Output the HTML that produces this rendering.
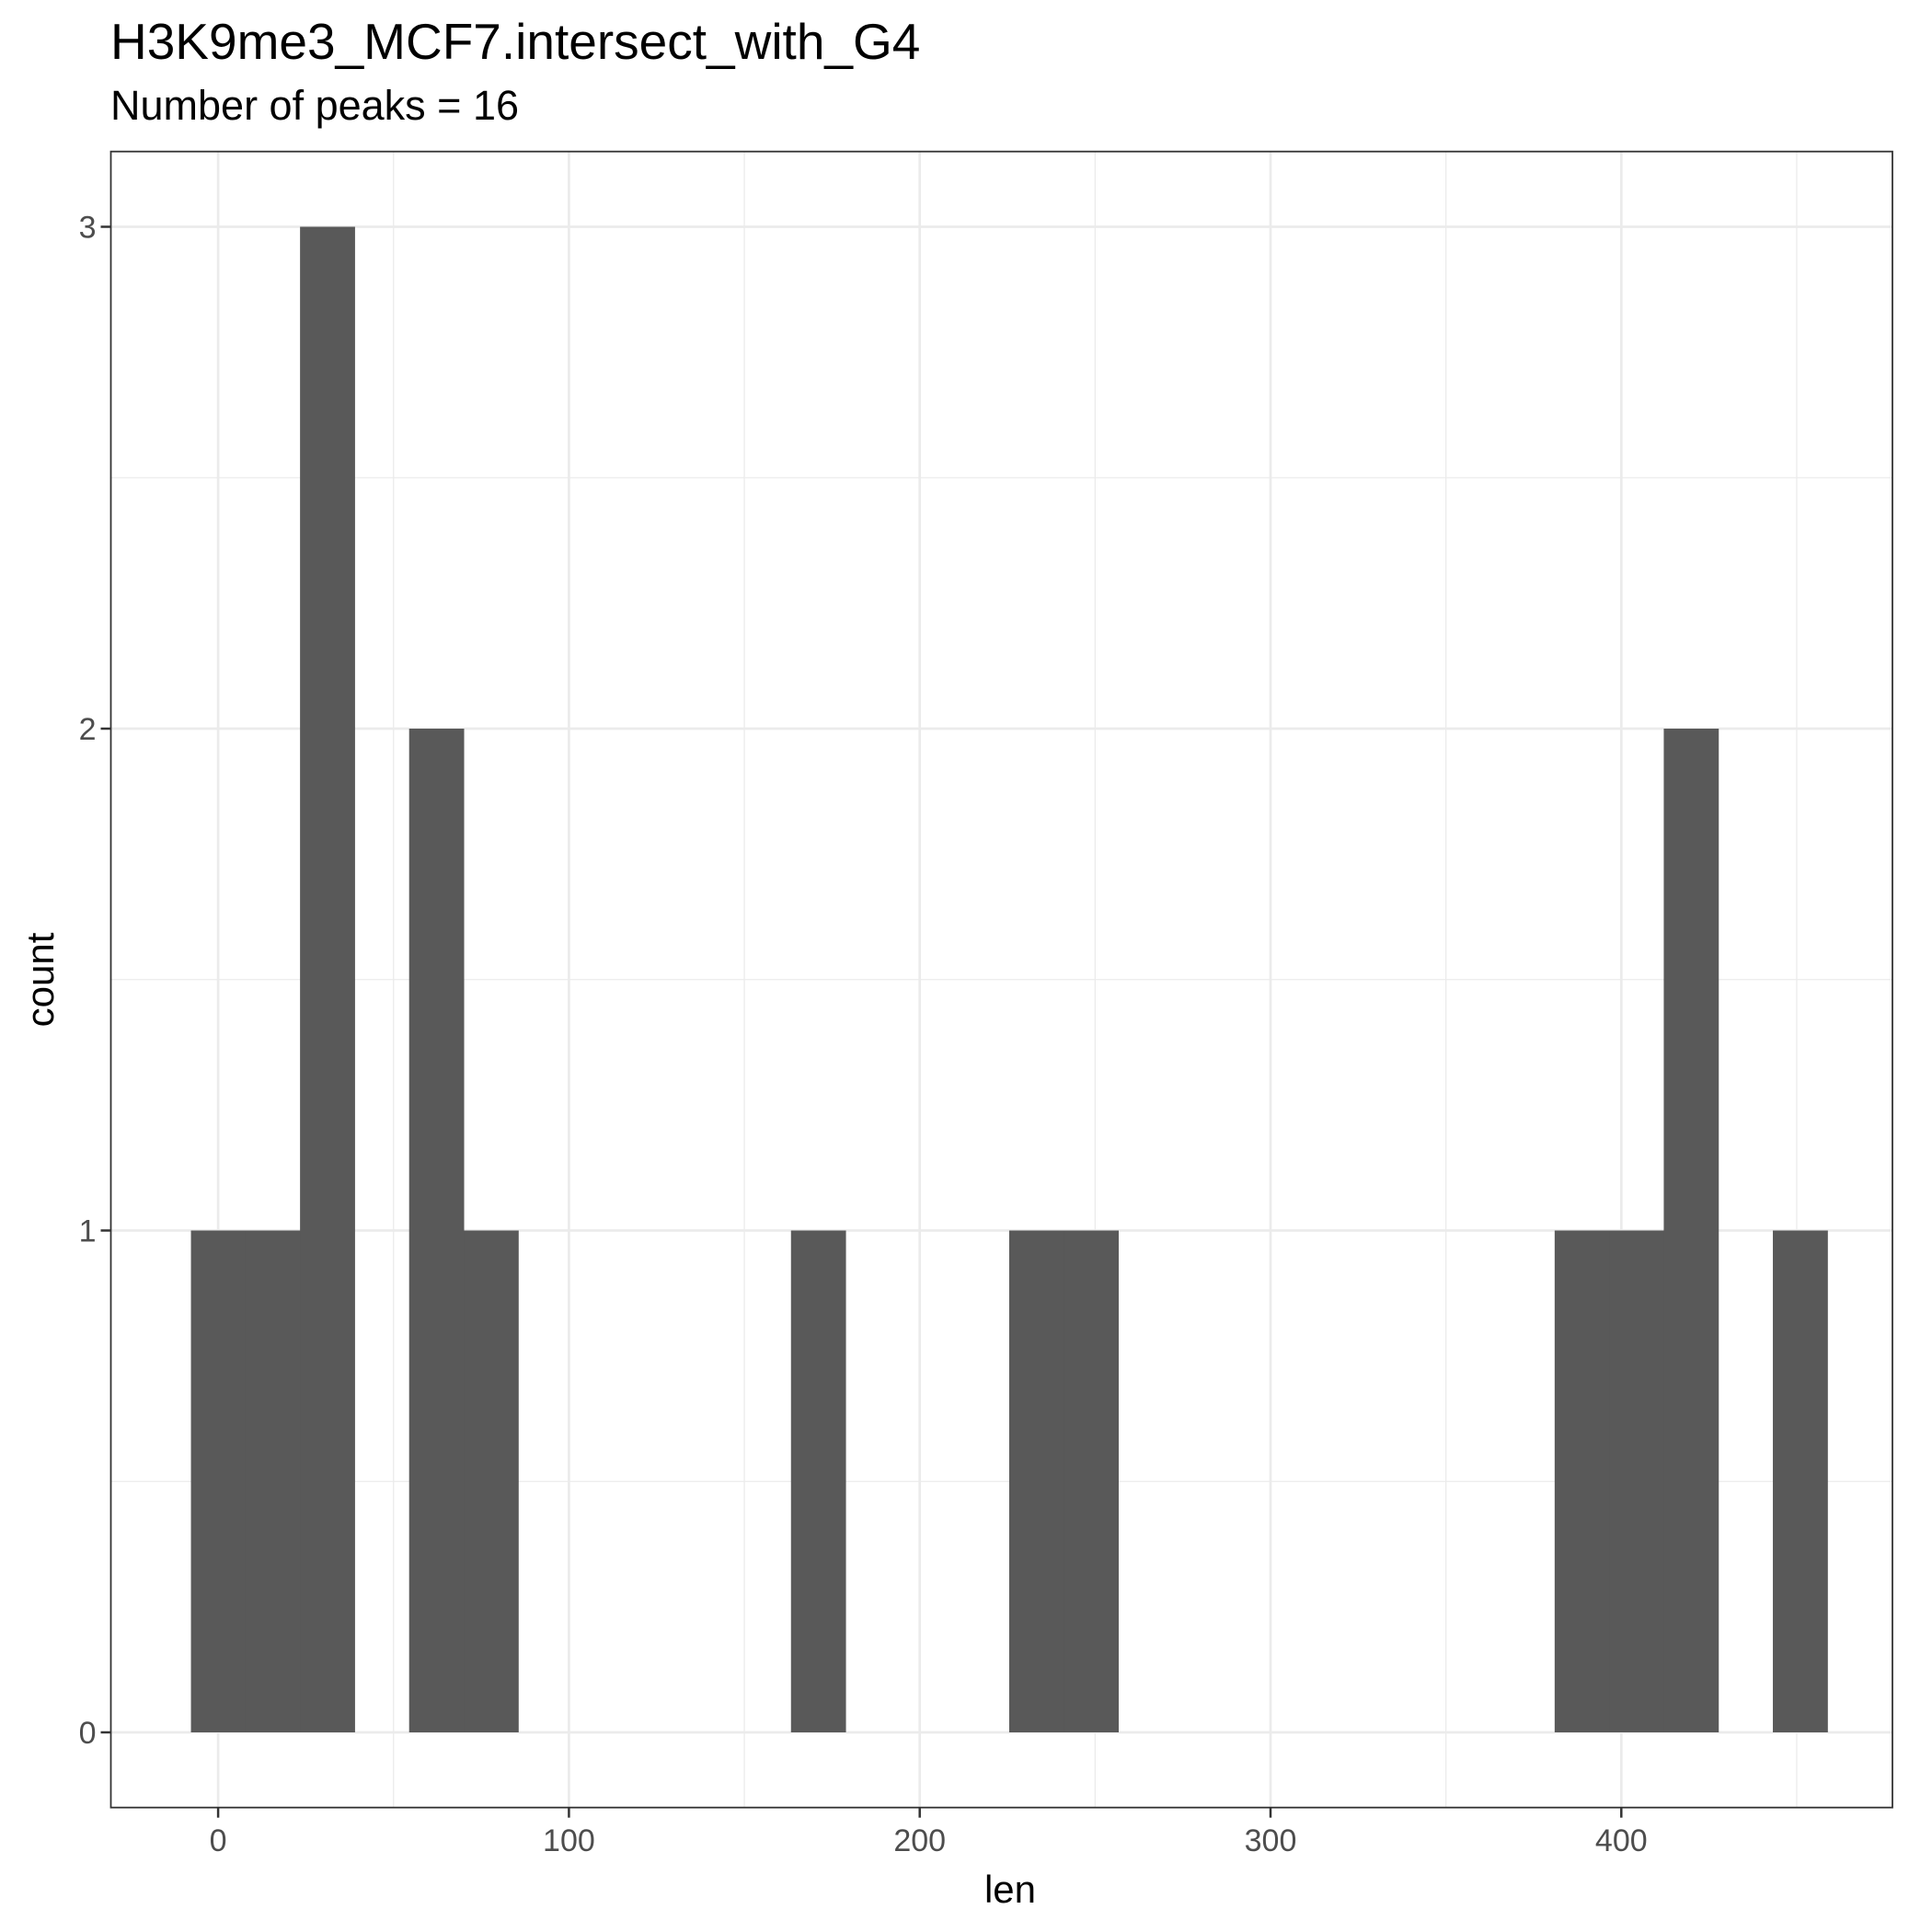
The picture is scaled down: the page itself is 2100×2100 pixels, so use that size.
<!DOCTYPE html>
<html><head><meta charset="utf-8"><style>
html,body{margin:0;padding:0;background:#fff;}
svg{display:block;font-family:"Liberation Sans",sans-serif;}
</style></head><body>
<svg id="chart" width="2100" height="2100" viewBox="0 0 2100 2100">
<text x="120" y="64" font-size="55" fill="#000">H3K9me3_MCF7.intersect_with_G4</text>
<text x="120" y="130" font-size="45" fill="#000">Number of peaks = 16</text>
<g id="grid"></g>
<g id="bars"></g>
<rect x="120.5" y="164.7" width="1936.5" height="1800" fill="none" stroke="#333" stroke-width="1.8"/>
<g id="axes"></g>
<text x="1098" y="2068" font-size="42" text-anchor="middle" fill="#000">len</text>
<text transform="translate(58,1065) rotate(-90)" font-size="42" text-anchor="middle" fill="#000">count</text>
</svg>
<script>
const binStart = -7.75;
const binWidth = 15.55;
const counts = [1,1,3,0,2,1,0,0,0,0,0,1,0,0,0,1,1,0,0,0,0,0,0,0,0,1,1,2,0,1];
const xTicks = [0,100,200,300,400];
const xMinor = [50,150,250,350,450];
const yTicks = [0,1,2,3];
const yMinor = [0.5,1.5,2.5];

const NS = "http://www.w3.org/2000/svg";
const PL = 120.5, PR = 2057, PT = 164.7, PB = 1964.7;
function xs(v){ return 237.1 + v * 3.813; }
function ys(v){ return 1883 - v * 545.5; }
function mk(tag, attrs, parent){ const e = document.createElementNS(NS, tag); for (const k in attrs) e.setAttribute(k, attrs[k]); parent.appendChild(e); return e; }

const grid = document.getElementById('grid');
const bars = document.getElementById('bars');
const axes = document.getElementById('axes');
mk('rect',{x:PL,y:PT,width:PR-PL,height:PB-PT,fill:'#fff'},grid);
xMinor.forEach(v=>{ const l=mk('line',{x1:xs(v),x2:xs(v),y1:PT,y2:PB,stroke:'#ebebeb','stroke-width':1.3},grid);

 });
yMinor.forEach(v=>{ const l=mk('line',{x1:PL,x2:PR,y1:ys(v),y2:ys(v),stroke:'#ebebeb','stroke-width':1.3},grid);

 });
xTicks.forEach(v=>{ const l=mk('line',{x1:xs(v),x2:xs(v),y1:PT,y2:PB,stroke:'#ebebeb','stroke-width':2.7},grid);

 });
yTicks.forEach(v=>{ const l=mk('line',{x1:PL,x2:PR,y1:ys(v),y2:ys(v),stroke:'#ebebeb','stroke-width':2.7},grid);

 });

counts.forEach((c,i)=>{ if(!c) return;
  const a = binStart + i*binWidth, b = a + binWidth;
  const r = mk('rect',{x:xs(a),y:ys(c),width:xs(b)-xs(a)+0.5,height:ys(0)-ys(c),fill:'#595959'},bars);
  
  
});

xTicks.forEach(v=>{
  const t=mk('line',{x1:xs(v),x2:xs(v),y1:PB,y2:PB+11,stroke:'#333','stroke-width':2.5},axes);
  
  
  const tx=mk('text',{x:xs(v),y:2012,'font-size':34,'text-anchor':'middle',fill:'#4d4d4d'},axes);
  tx.textContent=v;
  
  
});
yTicks.forEach(v=>{
  const t=mk('line',{x1:PL-11,x2:PL,y1:ys(v),y2:ys(v),stroke:'#333','stroke-width':2.5},axes);
  
  
  const tx=mk('text',{x:PL-16,y:ys(v)+12,'font-size':34,'text-anchor':'end',fill:'#4d4d4d'},axes);
  tx.textContent=v;
  
  
});
</script>
</body></html>
